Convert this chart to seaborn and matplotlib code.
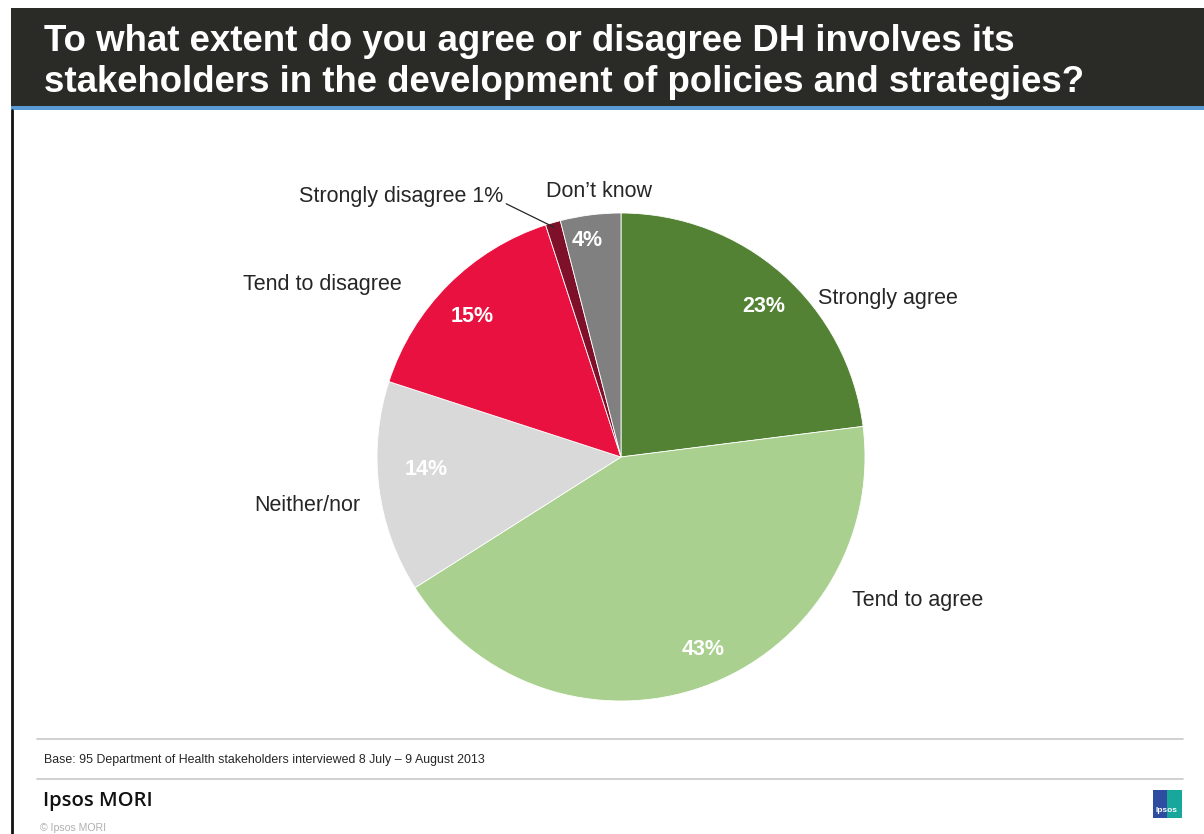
import numpy as np
import matplotlib
matplotlib.use("Agg")
import matplotlib.pyplot as plt
from matplotlib.patches import Rectangle
import seaborn as sns

sns.set_theme(style="white")
plt.rcParams["font.family"] = ["Liberation Sans", "DejaVu Sans"]

# Survey responses (percent of stakeholders)
categories = ["Strongly agree", "Tend to agree", "Neither/nor",
              "Tend to disagree", "Strongly disagree", "Don\u2019t know"]
values = [23, 43, 14, 15, 1, 4]
colors = ["#548235", "#A9D08E", "#D9D9D9", "#E8113F", "#7F1029", "#808080"]

title = ("To what extent do you agree or disagree DH involves its\n"
         "stakeholders in the development of policies and strategies?")
base_note = "Base: 95 Department of Health stakeholders interviewed 8 July \u2013 9 August 2013"

W, H = 1204, 834
fig = plt.figure(figsize=(W / 100, H / 100), dpi=100)
fig.patch.set_facecolor("white")


def fx(px):
    return px / W


def fy(py):
    return 1 - py / H


# Title banner
fig.add_artist(Rectangle((fx(11), fy(106)), fx(W - 11), fy(8) - fy(106),
                         transform=fig.transFigure, facecolor="#2A2A26",
                         edgecolor="none", zorder=1))
fig.add_artist(Rectangle((fx(11), fy(110)), fx(W - 11), fy(106) - fy(110),
                         transform=fig.transFigure, facecolor="#5B9BD5",
                         edgecolor="none", zorder=1))
# left border rule
fig.add_artist(plt.Line2D([fx(12), fx(12)], [fy(110), 0], transform=fig.transFigure,
                          color="#111111", lw=2))
fig.text(fx(44), fy(62), title, color="white", fontsize=26.4, fontweight="bold",
         ha="left", va="center", linespacing=1.2)

# Pie chart
cx, cy, r = 621, 457, 244
ax = fig.add_axes([fx(cx - r), fy(cy + r), fx(2 * r), fy(cy - r) - fy(cy + r)])
wedges, _ = ax.pie(values, colors=colors, startangle=90, counterclock=False,
                   radius=1.0, wedgeprops=dict(linewidth=0.6, edgecolor="white"))
ax.set_xlim(-1, 1)
ax.set_ylim(-1, 1)
ax.set_aspect("equal")
ax.axis("off")

# Percentage labels inside the slices (radius, angular nudge in degrees)
pct_radius = [0.85, 0.856, 0.80, 0.84, None, 0.90]
pct_nudge = [-2.2, 3.3, -3.4, 1.6, 0.0, 1.7]
for w, v, pr, nd in zip(wedges, values, pct_radius, pct_nudge):
    if pr is None:
        continue
    ang = np.deg2rad((w.theta1 + w.theta2) / 2 + nd)
    ax.text(pr * np.cos(ang), pr * np.sin(ang), f"{v}%", color="white",
            fontsize=15.5, fontweight="bold", ha="center", va="center")

# Category labels around the pie
lab_kw = dict(fontsize=15.5, color="#262626", va="center")
ax.text(0.807, 0.648, categories[0], ha="left", **lab_kw)
ax.text(0.947, -0.590, categories[1], ha="left", **lab_kw)
ax.text(-1.07, -0.197, categories[2], ha="right", **lab_kw)
ax.text(-0.90, 0.709, categories[3], ha="right", **lab_kw)
ax.text(-0.09, 1.09, categories[5], ha="center", **lab_kw)

# Small slice gets a leader line
w_sd = wedges[4]
ang = np.deg2rad((w_sd.theta1 + w_sd.theta2) / 2)
ax.annotate(f"{categories[4]} {values[4]}%",
            xy=(0.98 * np.cos(ang), 0.98 * np.sin(ang)),
            xytext=(-0.484, 1.066), ha="right", va="center",
            fontsize=15.5, color="#262626", annotation_clip=False,
            arrowprops=dict(arrowstyle="-", color="#262626", lw=0.9,
                            shrinkA=0, shrinkB=0,
                            relpos=(1.0, 0.25)))

# Footer rules and notes
for py in (739, 779):
    fig.add_artist(plt.Line2D([fx(37), fx(1183)], [fy(py), fy(py)],
                              transform=fig.transFigure, color="#C8C8C8", lw=1.2))
fig.text(fx(44), fy(760), base_note, fontsize=8.9, color="#262626",
         ha="left", va="center")
fig.text(fx(43), fy(801), "Ipsos MORI", fontsize=14.6, fontweight="semibold",
         family=["Open Sans", "DejaVu Sans"], color="#111111", ha="left", va="center")
fig.text(fx(40), fy(828), "\u00a9 Ipsos MORI", fontsize=7.6, color="#B0B0B0",
         ha="left", va="center")

# Ipsos badge
fig.add_artist(Rectangle((fx(1153), fy(818)), fx(14), fy(790) - fy(818),
                         transform=fig.transFigure, facecolor="#2F4DA0",
                         edgecolor="none"))
fig.add_artist(Rectangle((fx(1167), fy(818)), fx(15), fy(790) - fy(818),
                         transform=fig.transFigure, facecolor="#18A79B",
                         edgecolor="none"))
fig.text(fx(1167), fy(810), "Ipsos", fontsize=6, color="white", fontweight="bold",
         ha="center", va="center")

fig.savefig("out.png", dpi=100, facecolor="white")
